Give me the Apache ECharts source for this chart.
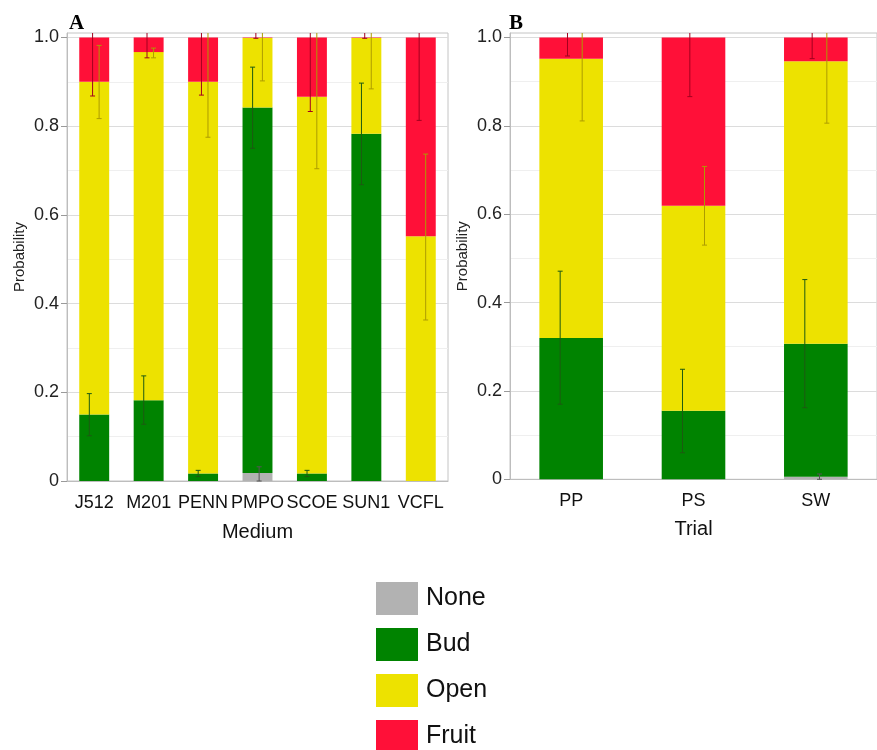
<!DOCTYPE html>
<html>
<head>
<meta charset="utf-8">
<script src="https://cdn.jsdelivr.net/npm/echarts@6/dist/echarts.min.js"></script>
<style>
html,body{margin:0;padding:0;background:#fff;}
#chart{width:877px;height:750px;}
</style>
</head>
<body>
<div id="chart"></div>
<script>
// ---- Panel A data (Medium) ----
const mediumCats = ['J512','M201','PENN','PMPO','SCOE','SUN1','VCFL'];
const noneA  = [0, 0, 0, 0.018, 0, 0, 0];
const budA   = [0.150, 0.182, 0.017, 0.824, 0.017, 0.783, 0];
const openA  = [0.750, 0.785, 0.883, 0.157, 0.849, 0.216, 0.552];
const fruitA = [0.100, 0.033, 0.100, 0.001, 0.134, 0.001, 0.448];
// error bars (drawn at the top of each stacked segment), low / high
const errNoneLowA   = [null, null, null, 0.000, null, null, null];
const errNoneHighA  = [null, null, null, 0.032, null, null, null];
const errBudLowA    = [0.102, 0.128, 0.010, 0.750, 0.010, 0.668, null];
const errBudHighA   = [0.197, 0.237, 0.024, 0.933, 0.024, 0.897, null];
const errOpenLowA   = [0.817, 0.954, 0.775, 0.902, 0.704, 0.884, 0.363];
const errOpenHighA  = [0.982, 0.976, 1.050, 1.050, 1.050, 1.050, 0.737];
const errFruitLowA  = [0.868, 0.954, 0.870, 0.998, 0.833, 0.998, 0.813];
const errFruitHighA = [1.050, 1.050, 1.050, 1.050, 1.050, 1.050, 1.050];

// ---- Panel B data (Trial) ----
const trialCats = ['PP','PS','SW'];
const noneB  = [0, 0, 0.006];
const budB   = [0.320, 0.155, 0.301];
const openB  = [0.632, 0.464, 0.639];
const fruitB = [0.048, 0.381, 0.054];
const errNoneLowB   = [null, null, 0.000];
const errNoneHighB  = [null, null, 0.012];
const errBudLowB    = [0.170, 0.060, 0.162];
const errBudHighB   = [0.471, 0.249, 0.452];
const errOpenLowB   = [0.811, 0.530, 0.806];
const errOpenHighB  = [1.050, 0.708, 1.050];
const errFruitLowB  = [0.958, 0.866, 0.952];
const errFruitHighB = [1.050, 1.050, 1.050];

const yTicks = [0, 0.2, 0.4, 0.6, 0.8, 1.0];
const classNames = ['None','Bud','Open','Fruit'];

const COL = {None:'#b2b2b2', Bud:'#008300', Open:'#ede200', Fruit:'#ff1038'};
const ERRCOL = {None:'#555555', Bud:'#1d5a12', Open:'#ad9c00', Fruit:'#a3001f'};
const OFFSET = {Bud:-0.09, Fruit:-0.03, None:0.03, Open:0.09};
const YMAX = 1.01;
const FONT = 'Liberation Sans';

function yAxis(gi){
  return {
    type:'value', gridIndex:gi, min:0, max:YMAX, interval:0.2,
    name:'Probability', nameLocation:'middle', nameGap:40,
    nameTextStyle:{fontFamily:FONT, fontSize:15, color:'#222'},
    axisLine:{show:true, lineStyle:{color:'#bdbdbd'}},
    axisTick:{show:true, length:6, lineStyle:{color:'#9a9a9a'}, customValues:yTicks},
    axisLabel:{fontFamily:FONT, fontSize:18, color:'#222', margin:8, customValues:yTicks,
      formatter:v => v > 1.0001 ? '' : (v === 0 ? '0' : v.toFixed(1))},
    splitLine:{show:true, lineStyle:{color:'#dcdcdc'}},
    minorTick:{show:false, splitNumber:2},
    minorSplitLine:{show:true, lineStyle:{color:'#efefef'}}
  };
}
function xAxis(gi, cats, name, gap){
  return {
    type:'category', gridIndex:gi, data:cats,
    name:name, nameLocation:'middle', nameGap:gap,
    nameTextStyle:{fontFamily:FONT, fontSize:20, color:'#111'},
    axisLine:{show:true, lineStyle:{color:'#bdbdbd'}},
    axisTick:{show:false},
    axisLabel:{interval:0, fontFamily:FONT, fontSize:18, color:'#111', margin:13},
    splitLine:{show:false}
  };
}

function barSeries(gi, stack, arrs, width){
  return classNames.map((n,k) => ({
    name:n, type:'bar', stack:stack, xAxisIndex:gi, yAxisIndex:gi,
    barWidth:width, data:arrs[k],
    itemStyle:{color:COL[n]}, emphasis:{disabled:true}, silent:true
  }));
}

function errRender(cls){
  return function(params, api){
    const i = api.value(0), lo = api.value(1), hi = api.value(2);
    const bw = api.size([1,0])[0];
    const hiC = Math.min(hi, YMAX);
    const p1 = api.coord([i, lo]);
    const p2 = api.coord([i, hiC]);
    const x = p1[0] + OFFSET[cls]*bw;
    const st = {stroke:ERRCOL[cls], lineWidth:1};
    const cap = 2.5;
    const ch = [{type:'line', shape:{x1:x, y1:p1[1], x2:x, y2:p2[1]}, style:st}];
    ch.push({type:'line', shape:{x1:x-cap, y1:p1[1], x2:x+cap, y2:p1[1]}, style:st});
    if (hi <= YMAX) ch.push({type:'line', shape:{x1:x-cap, y1:p2[1], x2:x+cap, y2:p2[1]}, style:st});
    return {type:'group', children:ch};
  };
}
function errSeries(gi, cls, lows, highs){
  const data = [];
  lows.forEach((l,i) => { if (l !== null && highs[i] !== null) data.push([i, l, highs[i]]); });
  return {
    type:'custom', xAxisIndex:gi, yAxisIndex:gi, renderItem:errRender(cls),
    encode:{x:0, y:[1,2]}, data:data, z:5, silent:true
  };
}

const option = {
  animation:false,
  backgroundColor:'#fff',
  title:[
    {text:'A', left:64, top:8, textStyle:{fontFamily:'Liberation Serif', fontWeight:'bold', fontSize:21, color:'#000'}},
    {text:'B', left:504, top:8, textStyle:{fontFamily:'Liberation Serif', fontWeight:'bold', fontSize:21, color:'#000'}}
  ],
  legend:{
    orient:'vertical', left:376, top:582, height:220, width:200,
    itemWidth:42, itemHeight:33, itemGap:13,
    icon:'rect', data:classNames, selectedMode:false, padding:0,
    textStyle:{fontFamily:FONT, fontSize:25, color:'#111', padding:[0,0,0,3]}
  },
  grid:[
    {left:67, top:33, width:381, height:448, show:true, borderColor:'#c4c4c4', borderWidth:1, backgroundColor:'#fff'},
    {left:510, top:33, width:379.5, height:446.3, show:true, borderColor:'#c4c4c4', borderWidth:1, backgroundColor:'#fff'}
  ],
  xAxis:[xAxis(0, mediumCats, 'Medium', 41), xAxis(1, trialCats, 'Trial', 40)],
  yAxis:[yAxis(0), yAxis(1)],
  series:[
    ...barSeries(0, 'A', [noneA, budA, openA, fruitA], '55%'),
    ...barSeries(1, 'B', [noneB, budB, openB, fruitB], '52%'),
    errSeries(0, 'None', errNoneLowA, errNoneHighA),
    errSeries(0, 'Bud', errBudLowA, errBudHighA),
    errSeries(0, 'Open', errOpenLowA, errOpenHighA),
    errSeries(0, 'Fruit', errFruitLowA, errFruitHighA),
    errSeries(1, 'None', errNoneLowB, errNoneHighB),
    errSeries(1, 'Bud', errBudLowB, errBudHighB),
    errSeries(1, 'Open', errOpenLowB, errOpenHighB),
    errSeries(1, 'Fruit', errFruitLowB, errFruitHighB)
  ]
};
const chart = echarts.init(document.getElementById('chart'), null, {renderer:'canvas'});
chart.setOption(option);
</script>
</body>
</html>
